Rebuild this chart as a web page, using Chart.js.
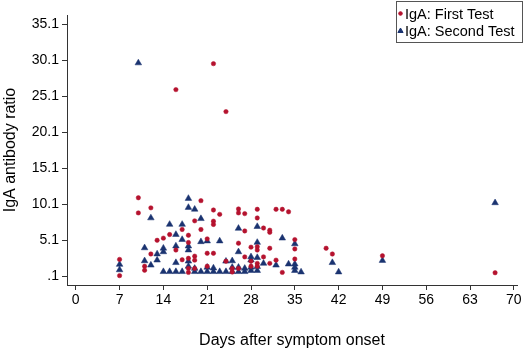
<!DOCTYPE html>
<html>
<head>
<meta charset="utf-8">
<script src="https://cdn.jsdelivr.net/npm/chart.js@4"></script>
<style>
  html, body { margin: 0; padding: 0; background: #fff; }
  #wrap { width: 525px; height: 353px; }
</style>
</head>
<body>
<div id="wrap"><canvas id="chart" width="525" height="353"></canvas></div>
<script>
// tick labels
const xTicks = [0, 7, 14, 21, 28, 35, 42, 49, 56, 63, 70];
const yTicks = [0.1, 5.1, 10.1, 15.1, 20.1, 25.1, 30.1, 35.1];

// IgA first test: [days, ratio]
const firstTest = [
  [7, 2.45], [7, 0.2],
  [10, 11.0], [10, 8.9],
  [11, 1.5], [11, 0.95],
  [12, 9.6], [12, 3.2],
  [13, 5.1], [14, 5.4], [15, 5.9],
  [16, 26.0], [16, 3.75],
  [17, 6.6], [17, 2.4],
  [18, 5.8], [18, 4.8], [18, 2.6], [18, 1.2], [18, 0.65],
  [19, 7.8], [19, 2.9], [19, 2.35], [19, 1.2],
  [20, 10.6], [20, 6.6],
  [21, 5.3], [21, 3.3], [21, 1.5],
  [22, 29.6], [22, 9.3], [22, 7.75], [22, 7.3], [22, 3.3],
  [23, 8.7],
  [24, 22.95], [24, 2.2],
  [25, 1.2], [25, 0.7],
  [26, 9.45], [26, 8.9], [26, 4.7], [26, 1.2],
  [27, 8.8], [27, 6.4], [27, 2.8],
  [28, 4.15], [28, 2.2], [28, 1.5],
  [29, 9.4], [29, 8.2], [29, 4.2], [29, 3.75], [29, 1.9], [29, 1.5],
  [30, 6.8], [30, 2.8],
  [31, 6.5], [31, 6.2], [31, 4.0], [31, 1.9],
  [32, 9.4], [32, 2.35],
  [33, 9.4], [33, 0.65],
  [34, 9.05],
  [35, 5.2], [35, 3.9], [35, 2.5],
  [40, 4.0], [41, 3.2], [49, 2.95], [67, 0.6]
];

// IgA second test: [days, ratio]
const secondTest = [
  [7, 1.75], [7, 1.0],
  [10, 29.7],
  [11, 4.05], [11, 2.25],
  [12, 8.2], [12, 1.65],
  [13, 3.2], [13, 2.35],
  [14, 4.0], [14, 3.5], [14, 0.75],
  [15, 7.3], [15, 0.75],
  [16, 5.9], [16, 4.3], [16, 2.0], [16, 0.75],
  [17, 7.3], [17, 5.2], [17, 0.75],
  [18, 10.9], [18, 9.65], [18, 4.3], [18, 3.75], [18, 2.2], [18, 1.5],
  [19, 9.4], [19, 1.2], [19, 0.75],
  [20, 8.1], [20, 4.9], [20, 0.75],
  [21, 5.0], [21, 1.35], [21, 0.75],
  [22, 1.25], [22, 0.75],
  [23, 5.0], [23, 0.75],
  [24, 2.2], [24, 0.75],
  [25, 2.25], [25, 1.35], [25, 0.75],
  [26, 6.75], [26, 3.5], [26, 1.35], [26, 0.75],
  [27, 1.2], [27, 0.75],
  [28, 2.8], [28, 2.35], [28, 1.35], [28, 0.9],
  [29, 7.0], [29, 4.8], [29, 2.7], [29, 1.45], [29, 0.9],
  [30, 1.9], [32, 1.65], [33, 5.4], [34, 1.8],
  [35, 4.6], [35, 1.8], [35, 1.35], [35, 0.9],
  [36, 0.7], [41, 2.0], [42, 0.7], [49, 2.3], [67, 10.3]
];

const RED = '#b5122e';
const NAVY = '#1a3370';

const toPoints = arr => arr.map(([x, y]) => ({ x, y }));

// legend box drawn in the top right corner, like the Stata one
const boxLegend = {
    id: 'boxLegend',
    afterDraw(chart) {
        const ctx = chart.ctx;
        ctx.save();
        ctx.fillStyle = '#fff';
        ctx.fillRect(396.5, 1.5, 126, 41);
        ctx.strokeStyle = '#555';
        ctx.lineWidth = 1;
        ctx.strokeRect(396.5, 1.5, 126, 41);
        chart.data.datasets.forEach((ds, i) => {
            const y = 13.5 + i * 17.5;
            ctx.fillStyle = ds.backgroundColor;
            ctx.strokeStyle = ds.borderColor;
            Chart.helpers.drawPoint(ctx, {
                pointStyle: ds.pointStyle,
                radius: ds.pointStyle === 'triangle' ? 3 : 1.8,
                borderWidth: 0.5
            }, 400.5, y);
            ctx.fillStyle = '#000';
            ctx.font = '14.5px "Liberation Sans", Arial, sans-serif';
            ctx.textBaseline = 'middle';
            ctx.fillText(ds.label, 405, y + 1);
        });
        ctx.restore();
    }
};

const config = {
    type: 'scatter',
    data: {
        datasets: [
            {
                label: 'IgA: First Test',
                data: toPoints(firstTest),
                pointStyle: 'circle',
                backgroundColor: RED,
                borderColor: RED,
                borderWidth: 0.5,
                pointRadius: 2.2,
            },
            {
                label: 'IgA: Second Test',
                data: toPoints(secondTest),
                pointStyle: 'triangle',
                backgroundColor: NAVY,
                borderColor: NAVY,
                borderWidth: 0.5,
                pointRadius: 3.8,
            },
        ],
    },
    options: {
        responsive: false,
        animation: false,
        layout: { padding: { top: 15, right: 8, left: 0, bottom: 0 } },
        plugins: {
            legend: { display: false },
            tooltip: { enabled: false },
        },
        scales: {
            x: {
                type: 'linear',
                min: -1.4,
                max: 70.5,
                afterBuildTicks: scale => { scale.ticks = xTicks.map(v => ({ value: v })); },
                afterFit: scale => { scale.height = 68; },
                border: { color: '#333', width: 1 },
                grid: { drawOnChartArea: false, color: '#333', tickLength: 5 },
                ticks: {
                    color: '#000',
                    padding: 2,
                    maxRotation: 0,
                    font: { family: '"Liberation Sans", Arial, sans-serif', size: 14 },
                },
                title: {
                    display: true,
                    text: 'Days after symptom onset',
                    color: '#000',
                    padding: { top: 0, bottom: 3 },
                    font: { family: '"Liberation Sans", Arial, sans-serif', size: 16 },
                },
            },
            y: {
                type: 'linear',
                min: -1.1,
                max: 36.35,
                afterBuildTicks: scale => { scale.ticks = yTicks.map(v => ({ value: v })); },
                afterFit: scale => { scale.width = 67; },
                border: { color: '#333', width: 1 },
                grid: { drawOnChartArea: false, color: '#333', tickLength: 5 },
                ticks: {
                    color: '#000',
                    padding: 3,
                    font: { family: '"Liberation Sans", Arial, sans-serif', size: 14 },
                    callback: v => v.toFixed(1).replace(/^0/, ''),
                },
                title: {
                    display: true,
                    text: 'IgA antibody ratio',
                    color: '#000',
                    padding: { top: 1, bottom: 0 },
                    font: { family: '"Liberation Sans", Arial, sans-serif', size: 16 },
                },
            },
        },
    },
    plugins: [boxLegend],
};

new Chart(document.getElementById('chart').getContext('2d'), config);
</script>
</body>
</html>
